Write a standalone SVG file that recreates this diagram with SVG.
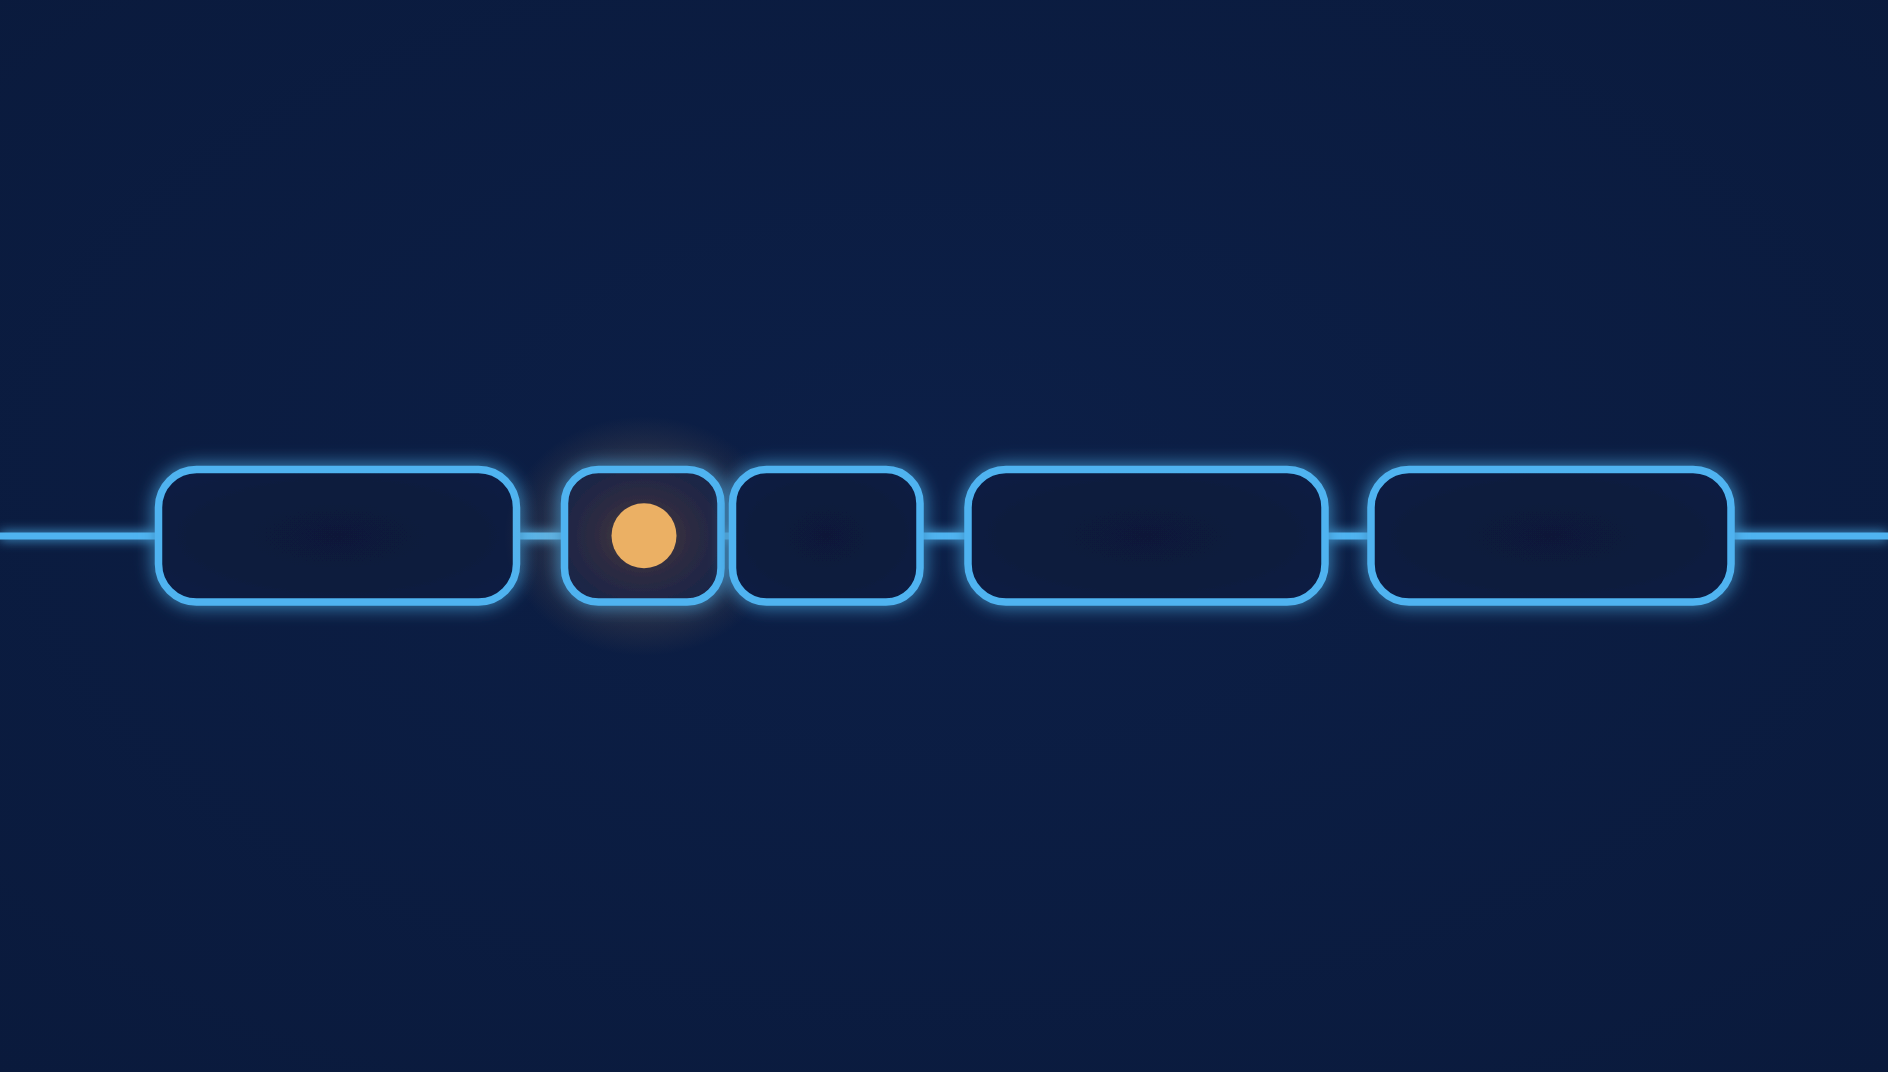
<svg xmlns="http://www.w3.org/2000/svg" width="1888" height="1072" viewBox="0 0 1888 1072">
  <defs>
    <radialGradient id="bg" cx="50%" cy="45%" r="75%">
      <stop offset="0" stop-color="#0c1f47"/>
      <stop offset="1" stop-color="#0a1a3c"/>
    </radialGradient>
    <radialGradient id="inner" cx="50%" cy="50%" r="70%">
      <stop offset="0" stop-color="#0a1939"/>
      <stop offset="0.6" stop-color="#0b1b3e"/>
      <stop offset="1" stop-color="#0d1f46"/>
    </radialGradient>
    <radialGradient id="warm" cx="50%" cy="50%" r="60%">
      <stop offset="0" stop-color="#4d3e3c"/>
      <stop offset="0.5" stop-color="#2d2b42"/>
      <stop offset="1" stop-color="#182447"/>
    </radialGradient>
    <radialGradient id="halo" cx="50%" cy="50%" r="50%">
      <stop offset="0" stop-color="#e8a860" stop-opacity="0.35"/>
      <stop offset="1" stop-color="#e8a860" stop-opacity="0"/>
    </radialGradient>
    <filter id="glow" x="-20%" y="-50%" width="140%" height="200%">
      <feGaussianBlur in="SourceGraphic" stdDeviation="9" result="b"/>
      <feMerge>
        <feMergeNode in="b"/>
        <feMergeNode in="SourceGraphic"/>
      </feMerge>
    </filter>
    <filter id="wireglow" filterUnits="userSpaceOnUse" x="-20" y="480" width="1930" height="112">
      <feGaussianBlur in="SourceGraphic" stdDeviation="6" result="b"/>
      <feMerge>
        <feMergeNode in="b"/>
        <feMergeNode in="SourceGraphic"/>
      </feMerge>
    </filter>
  </defs>
  <style>
    .box { fill: url(#inner); stroke: #4fb3f0; stroke-width: 7.5; }
    .wire { stroke: #4fb3f0; stroke-width: 7; fill: none; }
  </style>
  <rect width="1888" height="1072" fill="url(#bg)"/>

  <g id="connectors" filter="url(#wireglow)">
    <line class="wire" x1="0" y1="536" x2="160" y2="536"/>
    <line class="wire" x1="515" y1="536" x2="566" y2="536"/>
    <line class="wire" x1="719" y1="536" x2="734" y2="536"/>
    <line class="wire" x1="918" y1="536" x2="970" y2="536"/>
    <line class="wire" x1="1323" y1="536" x2="1373" y2="536"/>
    <line class="wire" x1="1729" y1="536" x2="1888" y2="536"/>
  </g>

  <g id="node1">
    <rect class="box" x="158.5" y="469.5" width="358" height="132.5" rx="38" filter="url(#glow)"/>
  </g>
  <g id="node2">
    <ellipse cx="644" cy="536" rx="140" ry="120" fill="url(#halo)"/>
    <rect class="box" x="564.5" y="469.5" width="156.5" height="132.5" rx="34" style="fill:url(#warm)" filter="url(#glow)"/>
    <circle cx="644" cy="535.7" r="32.5" fill="#ebb064"/>
  </g>
  <g id="node3">
    <rect class="box" x="732.5" y="469.5" width="187.5" height="132.5" rx="34" filter="url(#glow)"/>
  </g>
  <g id="node4">
    <rect class="box" x="968" y="469.5" width="357" height="132.5" rx="38" filter="url(#glow)"/>
  </g>
  <g id="node5">
    <rect class="box" x="1371" y="469.5" width="360" height="132.5" rx="38" filter="url(#glow)"/>
  </g>
</svg>
